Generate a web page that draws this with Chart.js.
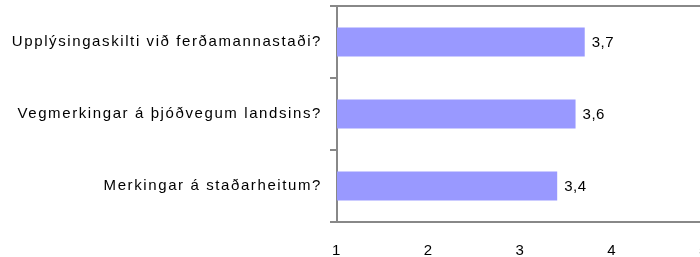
<!DOCTYPE html>
<html>
<head>
<meta charset="utf-8">
<script src="https://cdn.jsdelivr.net/npm/chart.js@4/dist/chart.umd.min.js"></script>
<style>
html,body{margin:0;padding:0;background:#fff;overflow:hidden;width:700px;height:257px;}
#wrap{position:relative;width:706px;height:257px;}
</style>
</head>
<body>
<div id="wrap"><canvas id="c"></canvas></div>
<script>
const categories = ["Upplýsingaskilti við ferðamannastaði?", "Vegmerkingar á þjóðvegum landsins?", "Merkingar á staðarheitum?"];
const values = [3.7, 3.6, 3.4];
const xTicks = [1, 2, 3, 4, 5];

const FONT = {family: "'Liberation Sans', Arial, sans-serif", size: 15};
const LS = '1.6px';
const AXIS = '#888888';

const spacingPlugin = {
  id: 'spacing',
  beforeInit(chart) { chart.ctx.letterSpacing = LS; },
  beforeUpdate(chart) { chart.ctx.letterSpacing = LS; },
  beforeDraw(chart) { chart.ctx.letterSpacing = LS; }
};

// top and bottom frame lines of the plot area
const frame = {
  id: 'frame',
  afterDraw(chart) {
    const {ctx, chartArea: a} = chart;
    ctx.save();
    ctx.strokeStyle = AXIS;
    ctx.lineWidth = 2;
    ctx.beginPath();
    ctx.moveTo(a.left - 7, Math.round(a.top));
    ctx.lineTo(a.right, Math.round(a.top));
    ctx.moveTo(a.left - 7, Math.round(a.bottom));
    ctx.lineTo(a.right, Math.round(a.bottom));
    ctx.stroke();
    ctx.restore();
  }
};

const valueLabels = {
  id: 'valueLabels',
  afterDatasetsDraw(chart) {
    const ctx = chart.ctx;
    const meta = chart.getDatasetMeta(0);
    ctx.save();
    ctx.letterSpacing = '0.5px';
    ctx.font = `${FONT.size}px ${FONT.family}`;
    ctx.fillStyle = '#000';
    ctx.textAlign = 'left';
    ctx.textBaseline = 'middle';
    meta.data.forEach((bar, i) => {
      ctx.fillText(String(values[i]).replace('.', ','), bar.x + 7, bar.y + 1);
    });
    ctx.restore();
  }
};

function noPad(s) { s.paddingTop = 0; s.paddingBottom = 0; s.paddingLeft = 0; s.paddingRight = 0; }

new Chart(document.getElementById('c'), {
  type: 'bar',
  data: {
    labels: categories,
    datasets: [{
      data: values,
      backgroundColor: '#9999FF',
      borderWidth: 0,
      barPercentage: 0.4,
      categoryPercentage: 1.0
    }]
  },
  plugins: [spacingPlugin, valueLabels, frame],
  options: {
    indexAxis: 'y',
    responsive: true,
    maintainAspectRatio: false,
    animation: false,
    layout: {autoPadding: false, padding: {top: 6, right: 2, left: 0, bottom: 0}},
    plugins: {legend: {display: false}, tooltip: {enabled: false}},
    scales: {
      x: {
        min: 1, max: 5,
        afterFit(s) { s.height = 35; noPad(s); },
        afterBuildTicks(s) { s.ticks = xTicks.map(v => ({value: v})); },
        border: {color: AXIS, width: 2},
        grid: {display: false},
        ticks: {color: '#000', font: FONT, padding: 12, maxRotation: 0}
      },
      y: {
        afterFit(s) { s.width = 337; noPad(s); },
        border: {color: AXIS, width: 2},
        grid: {
          offset: true,
          drawOnChartArea: false,
          lineWidth: 2,
          tickColor: AXIS,
          tickWidth: 2,
          tickLength: 7
        },
        ticks: {color: '#000', font: FONT, padding: 8}
      }
    }
  }
});
</script>
</body>
</html>
